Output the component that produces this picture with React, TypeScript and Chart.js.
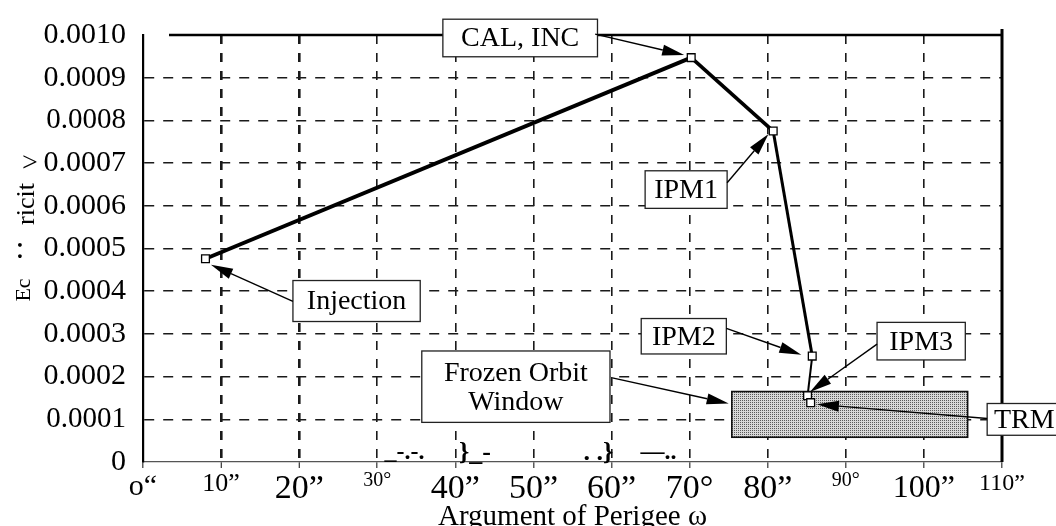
import React, { useEffect, useRef } from 'react';
import { Chart, registerables } from 'chart.js';

Chart.register(...registerables);

// ---- data ----
const eventNames = ['Injection', 'CAL, INC', 'IPM1', 'IPM2', 'IPM3', 'TRM'];
const perigeeArg = [8.0, 70.2, 80.7, 85.7, 85.1, 85.5];
const eccentricity = [0.000476, 0.000947, 0.000775, 0.000248, 0.000155, 0.000139];

const xTickLabels = ['o\u201C', '10\u201D', '20\u201D', '30\u00B0', '40\u201D', '50\u201D', '60\u201D', '70\u00B0', '80\u201D', '90\u00B0', '100\u201D', '110\u201D'];
const yTickLabels = ['0', '0.0001', '0.0002', '0.0003', '0.0004', '0.0005', '0.0006', '0.0007', '0.0008', '0.0009', '0.0010'];

const frozenWindowX = [75.4, 105.6];
const frozenWindowY = [0.000058, 0.000165];

// ---- styling / layout ----
const SERIF = '"Liberation Serif", "Times New Roman", serif';
const X_TICK_SIZES = [30, 26, 34, 20, 34, 34, 34, 34, 34, 20, 32, 24];
const Y_TICK_SIZES = [30, 29, 30, 30, 30, 30, 30, 30, 29, 30, 30];

// callouts: box [xLeft, yTop, xRight, yBottom] in data units, arrow from -> to in data units
const CALLOUTS = [
  { text: ['CAL, INC'], box: [38.4, 0.001037, 58.2, 0.000949], from: [57.9, 0.001002], to: [69.3, 0.000953] },
  { text: ['IPM1'], box: [64.3, 0.000682, 74.8, 0.000594], from: [74.8, 0.000654], to: [80.1, 0.000768] },
  { text: ['Injection'], box: [19.2, 0.000425, 35.5, 0.000329], from: [19.2, 0.000376], to: [8.7, 0.000462] },
  { text: ['IPM2'], box: [63.8, 0.000336, 74.7, 0.000253], from: [74.7, 0.000313], to: [84.3, 0.000251] },
  { text: ['IPM3'], box: [94.0, 0.000327, 105.3, 0.000239], from: [94.0, 0.000276], to: [85.4, 0.000164] },
  { text: ['Frozen Orbit', 'Window'], box: [35.7, 0.00026, 59.8, 0.0000928], from: [60.1, 0.000197], to: [75.0, 0.000137] },
  { text: ['TRM'], box: [108.1, 0.000137, 117.6, 0.0000626], from: [108.1, 0.000102], to: [86.3, 0.000135] },
];

const Y_TITLE_PARTS = [
  { text: 'Ec', x: 24, y: 290, size: 22, rot: true },
  { text: ':', x: 20, y: 250, size: 32, rot: false },
  { text: 'ricit', x: 27, y: 204, size: 26, rot: true },
  { text: '>', x: 30, y: 164, size: 28, rot: false },
];

const AXIS_NOISE = [
  { text: '_-.-.', x: 33.5, size: 24 },
  { text: '}_-', x: 42.5, size: 26 },
  { text: '. .}', x: 58.3, size: 26 },
  { text: '\u2014..', x: 66.0, size: 24 },
];

const SEG_WIDTHS = [4, 3.6, 3, 2, 1.5];

function drawArrow(ctx: CanvasRenderingContext2D, x1: number, y1: number, x2: number, y2: number) {
  const ang = Math.atan2(y2 - y1, x2 - x1);
  const L = 22;
  const W = 5.5;
  const bx = x2 - L * Math.cos(ang);
  const by = y2 - L * Math.sin(ang);
  ctx.beginPath();
  ctx.moveTo(x1, y1);
  ctx.lineTo(bx, by);
  ctx.stroke();
  ctx.beginPath();
  ctx.moveTo(x2, y2);
  ctx.lineTo(bx + W * Math.sin(ang), by - W * Math.cos(ang));
  ctx.lineTo(bx - W * Math.sin(ang), by + W * Math.cos(ang));
  ctx.closePath();
  ctx.fill();
}

function makePlugin(pattern: HTMLCanvasElement) {
  return {
    id: 'orbitCallouts',
    beforeDatasetsDraw(chart: any) {
      const { ctx, scales } = chart;
      const x = scales.x;
      const y = scales.y;
      const l = x.getPixelForValue(frozenWindowX[0]);
      const r = x.getPixelForValue(frozenWindowX[1]);
      const t = y.getPixelForValue(frozenWindowY[1]);
      const b = y.getPixelForValue(frozenWindowY[0]);
      ctx.save();
      const pat = ctx.createPattern(pattern, 'repeat');
      ctx.fillStyle = pat || '#bbb';
      ctx.fillRect(l, t, r - l, b - t);
      ctx.strokeStyle = '#111';
      ctx.lineWidth = 1.6;
      ctx.strokeRect(l, t, r - l, b - t);
      ctx.restore();
    },
    afterDatasetsDraw(chart: any) {
      const { ctx, scales, chartArea } = chart;
      const x = scales.x;
      const y = scales.y;
      ctx.save();
      // frame: top and right borders
      ctx.strokeStyle = '#000';
      ctx.lineWidth = 2.4;
      ctx.beginPath();
      ctx.moveTo(chartArea.left + 26, chartArea.top);
      ctx.lineTo(chartArea.right, chartArea.top);
      ctx.stroke();
      ctx.lineWidth = 3;
      ctx.beginPath();
      ctx.moveTo(chartArea.right, chartArea.top - 6);
      ctx.lineTo(chartArea.right, chartArea.bottom);
      ctx.stroke();

      // callouts
      ctx.font = `28px ${SERIF}`;
      ctx.textAlign = 'center';
      ctx.textBaseline = 'middle';
      for (const c of CALLOUTS) {
        const bl = x.getPixelForValue(c.box[0]);
        const bt = y.getPixelForValue(c.box[1]);
        const br = x.getPixelForValue(c.box[2]);
        const bb = y.getPixelForValue(c.box[3]);
        ctx.fillStyle = '#fff';
        ctx.fillRect(bl, bt, br - bl, bb - bt);
        ctx.strokeStyle = '#222';
        ctx.lineWidth = 1.3;
        ctx.strokeRect(bl, bt, br - bl, bb - bt);
        ctx.fillStyle = '#000';
        const cx = (bl + br) / 2;
        const cy = (bt + bb) / 2;
        const n = c.text.length;
        c.text.forEach((s, i) => {
          ctx.fillText(s, cx, cy + (i - (n - 1) / 2) * 29 + 1);
        });
        ctx.strokeStyle = '#000';
        ctx.fillStyle = '#000';
        ctx.lineWidth = 1.4;
        drawArrow(
          ctx,
          x.getPixelForValue(c.from[0]), y.getPixelForValue(c.from[1]),
          x.getPixelForValue(c.to[0]), y.getPixelForValue(c.to[1])
        );
      }

      // y-axis title fragments
      ctx.fillStyle = '#000';
      for (const p of Y_TITLE_PARTS) {
        ctx.save();
        ctx.font = `${p.size}px ${SERIF}`;
        ctx.translate(p.x, p.y);
        if (p.rot) ctx.rotate(-Math.PI / 2);
        ctx.textAlign = 'center';
        ctx.textBaseline = 'middle';
        ctx.fillText(p.text, 0, 0);
        ctx.restore();
      }

      // scan debris along the x axis
      for (const nz of AXIS_NOISE) {
        ctx.font = `bold ${nz.size}px ${SERIF}`;
        ctx.textAlign = 'center';
        ctx.textBaseline = 'middle';
        ctx.fillText(nz.text, x.getPixelForValue(nz.x), chartArea.bottom - 9);
      }
      ctx.restore();
    },
  };
}

export default function App() {
  const ref = useRef<HTMLCanvasElement>(null);

  useEffect(() => {
    const pc = document.createElement('canvas');
    pc.width = 2;
    pc.height = 2;
    const pctx = pc.getContext('2d')!;
    pctx.fillStyle = '#d8d8d8';
    pctx.fillRect(0, 0, 2, 2);
    pctx.fillStyle = '#5a5a5a';
    pctx.fillRect(0, 0, 1, 1);

    const chart = new Chart(ref.current!, {
      type: 'line',
      data: {
        labels: eventNames,
        datasets: [
          {
            label: 'Eccentricity',
            data: perigeeArg.map((v, i) => ({ x: v, y: eccentricity[i] })),
            borderColor: '#000',
            borderWidth: 3,
            segment: {
              borderWidth: (c: any) => SEG_WIDTHS[c.p0DataIndex] ?? 2,
            },
            tension: 0,
            pointStyle: 'rect',
            pointRadius: 5.5,
            pointBackgroundColor: '#fff',
            pointBorderColor: '#000',
            pointBorderWidth: 1.3,
            fill: false,
          } as any,
        ],
      },
      options: {
        animation: false,
        responsive: true,
        maintainAspectRatio: false,
        layout: { padding: { top: 31, right: 54, bottom: 0, left: 0 } },
        plugins: {
          legend: { display: false },
          tooltip: { enabled: false },
        },
        scales: {
          x: {
            type: 'linear',
            min: 0,
            max: 110,
            afterFit: (s: any) => { s.height = 64; },
            ticks: {
              stepSize: 10,
              autoSkip: false,
              maxRotation: 0,
              padding: 1,
              color: '#000',
              callback: (v: any) => xTickLabels[Math.round(Number(v) / 10)] ?? '',
              font: (c: any) => ({ family: SERIF, size: X_TICK_SIZES[c.index] ?? 30 }),
            },
            grid: {
              color: (c: any) => (c.tick && c.tick.value > 0 && c.tick.value < 110 ? '#1a1a1a' : 'rgba(0,0,0,0)'),
              lineWidth: (c: any) => (c.tick && (c.tick.value === 10 || c.tick.value === 20) ? 2.6 : 1.6),
              drawTicks: true,
              tickLength: 6,
              tickColor: '#333',
              tickWidth: 1.2,
            },
            border: { display: true, color: '#555', width: 1.2, dash: [9, 9] },
            title: {
              display: true,
              text: 'Argument of Perigee \u03C9',
              color: '#000',
              font: { family: SERIF, size: 29, lineHeight: 0.6 },
              padding: 0,
            },
          },
          y: {
            type: 'linear',
            min: 0,
            max: 0.001,
            afterFit: (s: any) => { s.width = 143; },
            ticks: {
              stepSize: 0.0001,
              padding: 17,
              color: '#000',
              callback: (v: any) => yTickLabels[Math.round(Number(v) * 10000)] ?? '',
              font: (c: any) => ({ family: SERIF, size: Y_TICK_SIZES[c.index] ?? 30 }),
            },
            grid: {
              color: (c: any) => (c.tick && c.tick.value > 1e-9 && c.tick.value < 0.00099 ? '#1a1a1a' : 'rgba(0,0,0,0)'),
              lineWidth: 1.6,
              drawTicks: false,
            },
            border: { display: true, color: '#000', width: 2.2, dash: [10, 9] },
          },
        },
      } as any,
      plugins: [makePlugin(pc)],
    });
    return () => chart.destroy();
  }, []);

  return (
    <div style={{ position: 'fixed', left: 0, top: 0, width: 1056, height: 526, background: '#fff' }}>
      <canvas ref={ref} />
    </div>
  );
}
